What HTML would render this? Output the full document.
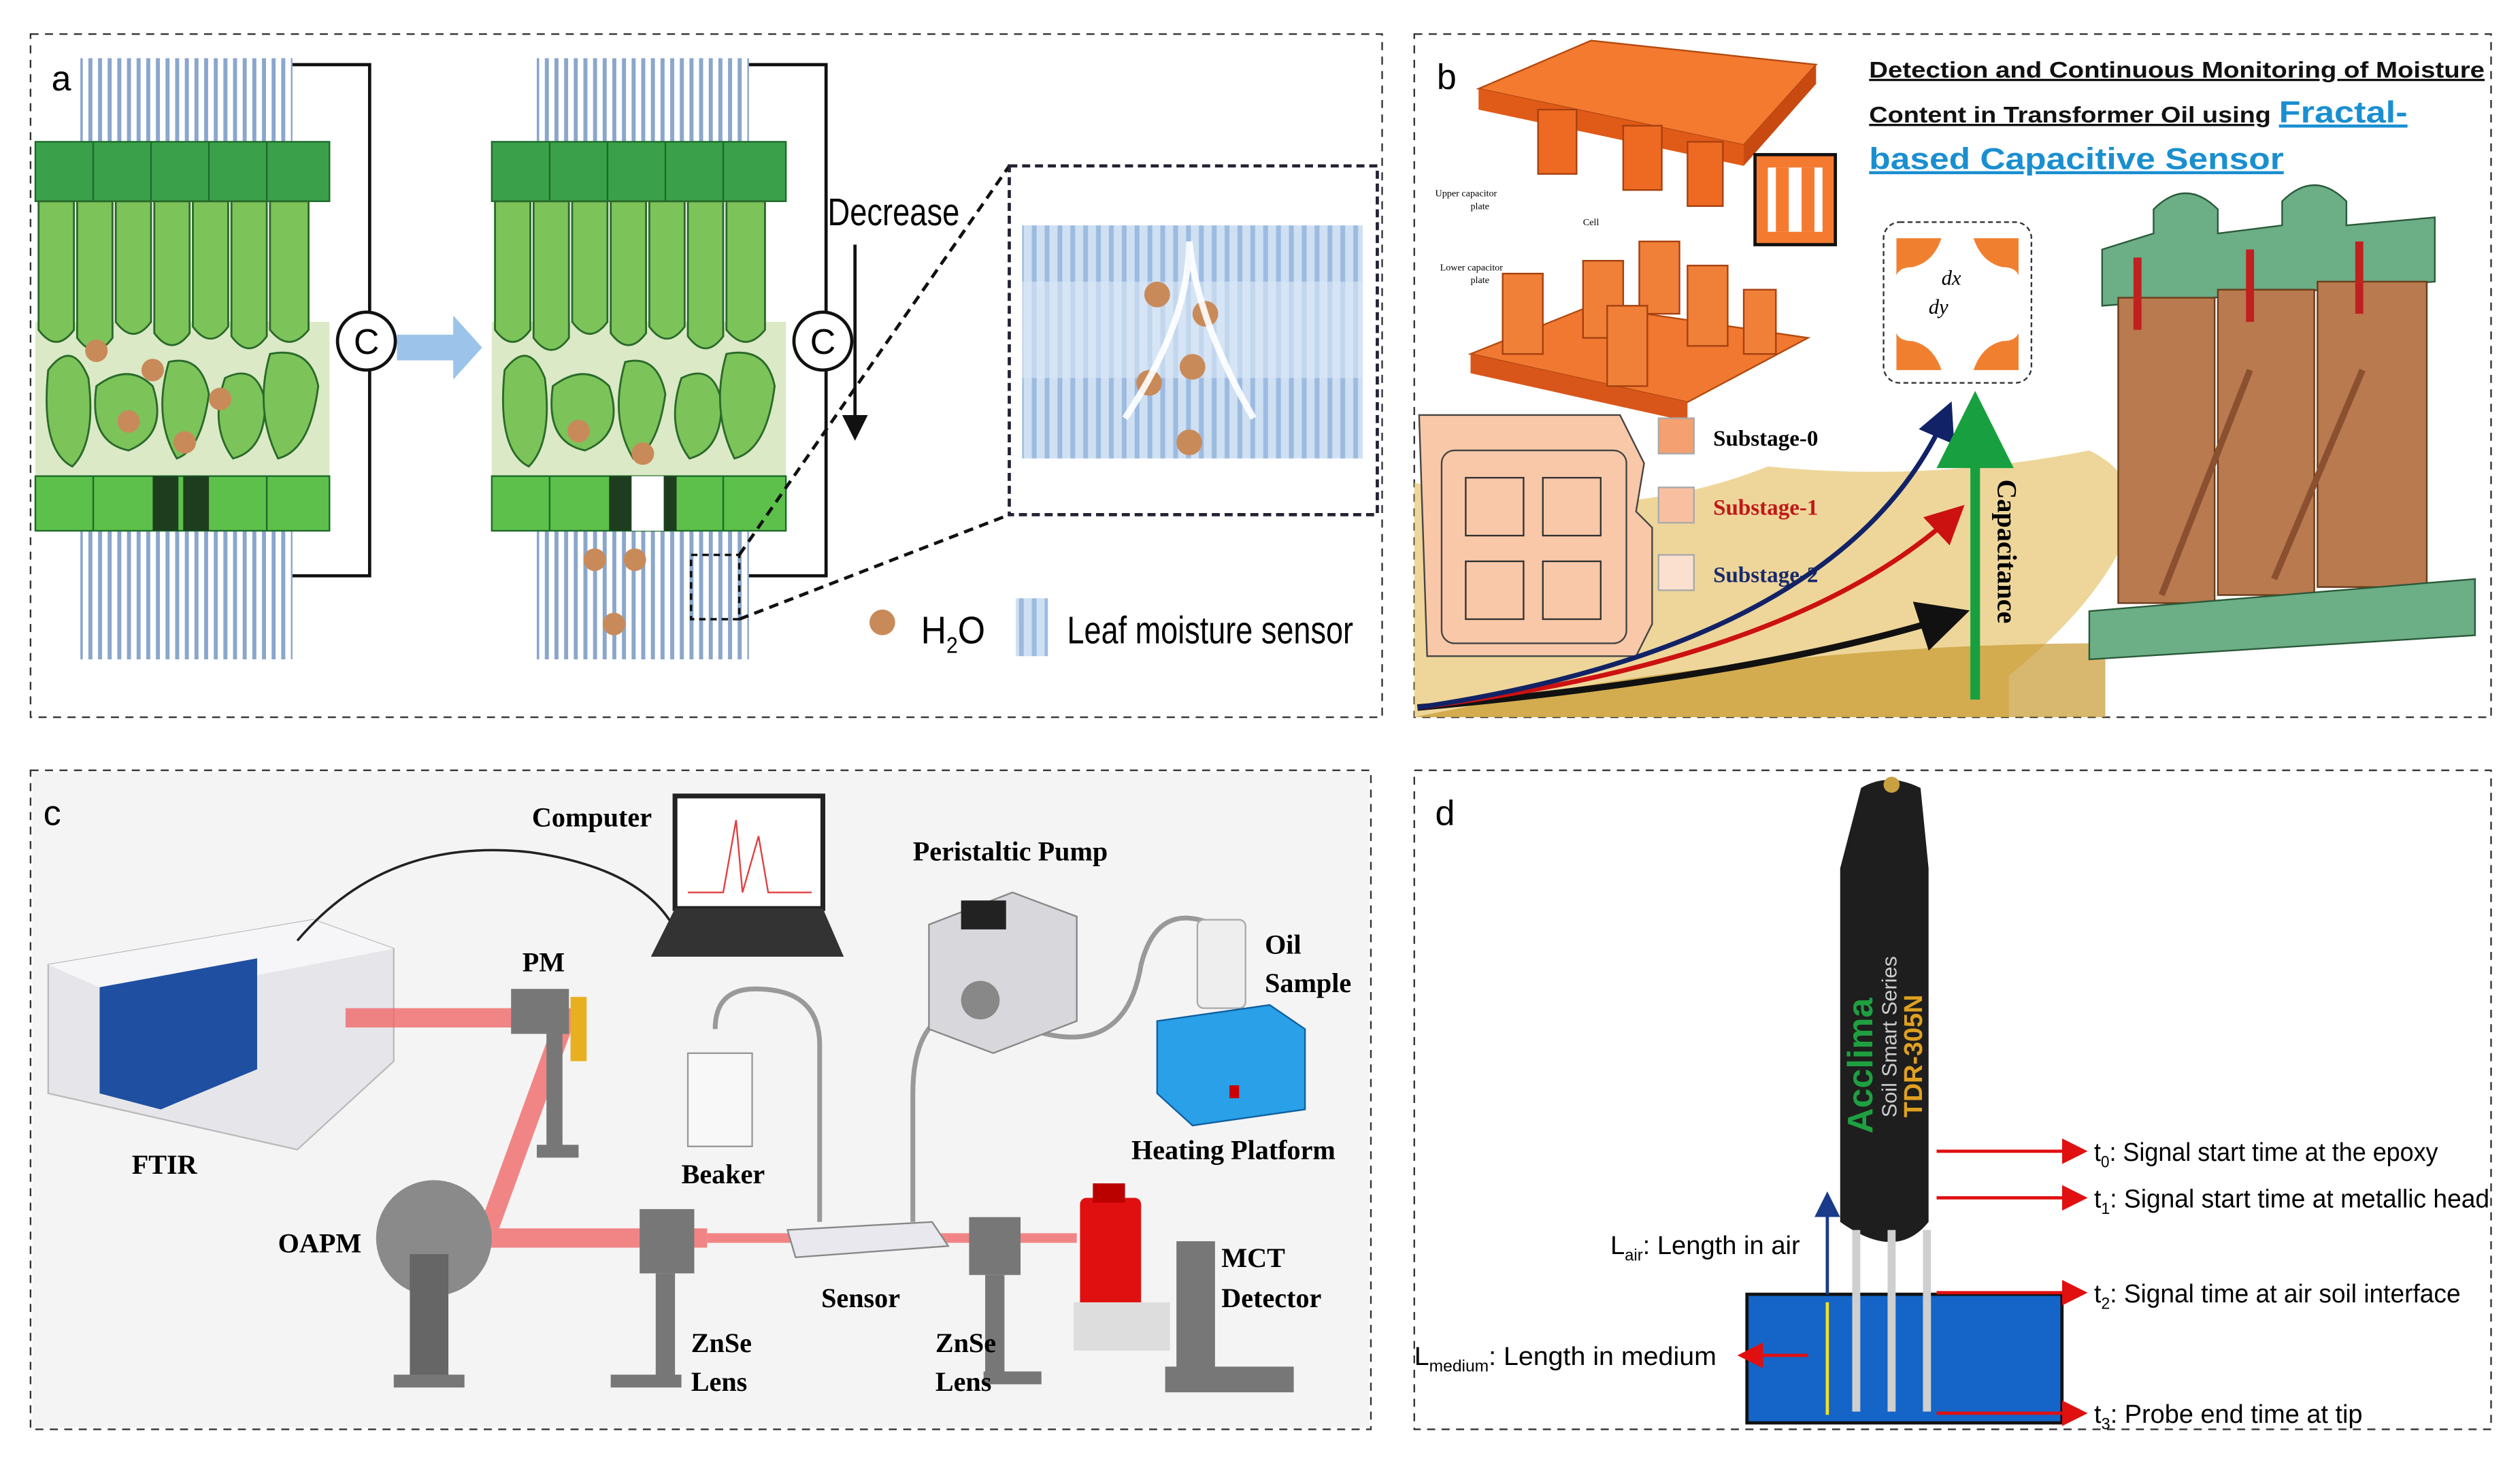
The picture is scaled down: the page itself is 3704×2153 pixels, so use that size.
<!DOCTYPE html>
<html><head><meta charset="utf-8"><style>
html,body{margin:0;padding:0;background:#fff}
svg{display:block}
text{font-family:"Liberation Serif",serif}
text.sans,.sans text{font-family:"Liberation Sans",sans-serif}
</style></head><body>
<svg width="3704" height="2153" viewBox="0 0 1568 911" xmlns="http://www.w3.org/2000/svg">
<defs>
<pattern id="vl" width="6" height="10" patternUnits="userSpaceOnUse"><rect width="6" height="10" fill="#fff"/><rect x="1" width="2.5" height="10" fill="#8aa6cc"/></pattern>
<pattern id="sens" width="8" height="12" patternUnits="userSpaceOnUse"><rect width="8" height="12" fill="#cfe0f2"/><rect x="2" width="3" height="12" fill="#9dbbe0"/></pattern>
<marker id="ar" markerWidth="8" markerHeight="8" refX="6" refY="4" orient="auto"><path d="M0,0 L8,4 L0,8z" fill="#e01010"/></marker>
<marker id="ak" markerWidth="8" markerHeight="8" refX="6" refY="4" orient="auto"><path d="M0,0 L8,4 L0,8z" fill="#111"/></marker>
<marker id="ab" markerWidth="8" markerHeight="8" refX="6" refY="4" orient="auto"><path d="M0,0 L8,4 L0,8z" fill="#112266"/></marker>
<marker id="arr" markerWidth="8" markerHeight="8" refX="6" refY="4" orient="auto"><path d="M0,0 L8,4 L0,8z" fill="#cc1111"/></marker>
<marker id="ag" markerWidth="8" markerHeight="8" refX="6" refY="4" orient="auto"><path d="M0,0 L8,4 L0,8z" fill="#18a040"/></marker>
<marker id="ablue" markerWidth="8" markerHeight="8" refX="6" refY="4" orient="auto"><path d="M0,0 L8,4 L0,8z" fill="#1a3a8a"/></marker>
</defs>
<rect width="1568" height="911" fill="#fff"/>
<g fill="none" stroke="#333" stroke-width="1" stroke-dasharray="5,4">
<rect x="19" y="21" width="841" height="425"/>
<rect x="880" y="21" width="670" height="425"/>
<rect x="19" y="479" width="834" height="410"/>
<rect x="880" y="479" width="670" height="410"/>
</g>
<!-- ===== Panel a ===== -->
<text x="32" y="56" class="sans" font-size="22">a</text>
<g id="leaf">
<rect x="50" y="36" width="132" height="56" fill="url(#vl)"/>
<rect x="50" y="330" width="132" height="80" fill="url(#vl)"/>
<rect x="22" y="200" width="183" height="98" fill="#dbe9c6"/>
<rect x="22" y="88" width="183" height="37" fill="#3aa14a" stroke="#1d6a2a"/>
<g stroke="#1d6a2a" stroke-width="1"><line x1="58" y1="88" x2="58" y2="125"/><line x1="94" y1="88" x2="94" y2="125"/><line x1="130" y1="88" x2="130" y2="125"/><line x1="166" y1="88" x2="166" y2="125"/></g>
<g fill="#7cc35a" stroke="#2a6a2a" stroke-width="1.2">
<path d="M24,125 h22 v80 q-11,15 -22,0z"/><path d="M48,125 h22 v85 q-11,15 -22,0z"/><path d="M72,125 h22 v75 q-11,15 -22,0z"/><path d="M96,125 h22 v82 q-11,15 -22,0z"/><path d="M120,125 h22 v78 q-11,15 -22,0z"/><path d="M144,125 h22 v84 q-11,15 -22,0z"/><path d="M168,125 h24 v80 q-12,15 -24,0z"/>
<path d="M30,230 q15,-20 25,5 q5,40 -10,55 q-20,-10 -15,-60z"/><path d="M60,240 q20,-15 35,0 q10,30 -15,40 q-25,-5 -20,-40z"/><path d="M105,225 q20,-5 25,20 q-5,35 -20,40 q-15,-25 -5,-60z"/><path d="M140,235 q20,-10 25,15 q0,30 -20,35 q-15,-20 -5,-50z"/><path d="M168,220 q25,-5 30,20 q-5,40 -25,45 q-15,-30 -5,-65z"/>
</g>
<rect x="22" y="296" width="183" height="34" fill="#5cc04a" stroke="#1d6a2a"/>
<g stroke="#1d6a2a"><line x1="58" y1="296" x2="58" y2="330"/><line x1="166" y1="296" x2="166" y2="330"/></g>
</g>
<rect x="95" y="296" width="16" height="34" fill="#1e3d1e"/><rect x="114" y="296" width="16" height="34" fill="#1e3d1e"/>
<use href="#leaf" x="284"/>
<rect x="379" y="296" width="14" height="34" fill="#1e3d1e"/><rect x="393" y="296" width="20" height="34" fill="#fff"/><rect x="413" y="296" width="8" height="34" fill="#1e3d1e"/>
<g fill="none" stroke="#111" stroke-width="2">
<path d="M182,40 H230 V194 M230,230 V358 H182"/>
<path d="M466,40 H514 V194 M514,230 V358 H466"/>
</g>
<circle cx="228" cy="212" r="18" fill="#fff" stroke="#111" stroke-width="2"/>
<text x="228" y="220" font-size="22" text-anchor="middle" class="sans">C</text>
<circle cx="512" cy="212" r="18" fill="#fff" stroke="#111" stroke-width="2"/>
<text x="512" y="220" font-size="22" text-anchor="middle" class="sans">C</text>
<path d="M247,208 h35 v-12 l18,20 -18,20 v-12 h-35z" fill="#9cc4ea"/>
<text x="515" y="140" font-size="24" class="sans" textLength="82" lengthAdjust="spacingAndGlyphs">Decrease</text>
<line x1="532" y1="152" x2="532" y2="270" stroke="#111" stroke-width="2" marker-end="url(#ak)"/>
<rect x="636" y="140" width="212" height="145" fill="url(#sens)"/>
<rect x="636" y="175" width="212" height="60" fill="#dbe8f6" opacity=".6"/>
<g fill="#c98a5a">
<circle cx="60" cy="218" r="7"/><circle cx="95" cy="230" r="7"/><circle cx="137" cy="248" r="7"/><circle cx="80" cy="262" r="7"/><circle cx="115" cy="275" r="7"/>
<circle cx="360" cy="268" r="7"/><circle cx="400" cy="282" r="7"/><circle cx="370" cy="348" r="7"/><circle cx="395" cy="348" r="7"/><circle cx="382" cy="388" r="7"/>
<circle cx="720" cy="183" r="8"/><circle cx="750" cy="195" r="8"/><circle cx="715" cy="238" r="8"/><circle cx="742" cy="228" r="8"/><circle cx="740" cy="275" r="8"/>
<circle cx="549" cy="387" r="8"/>
</g>
<rect x="430" y="345" width="30" height="40" fill="none" stroke="#111" stroke-dasharray="4,3" stroke-width="1.5"/>
<g stroke="#111" stroke-width="2" stroke-dasharray="6,4"><line x1="460" y1="345" x2="628" y2="103"/><line x1="460" y1="385" x2="628" y2="320"/></g>
<rect x="628" y="103" width="229" height="217" fill="none" stroke="#223" stroke-width="2" stroke-dasharray="5,3"/>
<path d="M700,260 Q740,200 740,150 M740,150 Q745,200 780,260" stroke="#fff" stroke-width="4" fill="none" opacity=".9"/>
<text x="573" y="400" font-size="24" class="sans" textLength="40" lengthAdjust="spacingAndGlyphs">H<tspan font-size="14" dy="6">2</tspan><tspan dy="-6">O</tspan></text>
<rect x="632" y="372" width="20" height="36" fill="url(#sens)"/>
<text x="664" y="400" font-size="24" class="sans" textLength="178" lengthAdjust="spacingAndGlyphs">Leaf moisture sensor</text>
<!-- ===== Panel b ===== -->
<path d="M880,446 L880,300 Q1000,330 1100,290 Q1200,300 1300,280 Q1340,300 1320,340 Q1300,380 1250,420 L1250,446z" fill="#e8c878" opacity=".75"/>
<path d="M880,446 Q1100,400 1310,400 L1310,446z" fill="#c89a30" opacity=".7"/>
<text x="894" y="55" class="sans" font-size="22">b</text>
<polygon points="920,55 990,25 1130,40 1085,90" fill="#f47a30" stroke="#b24a10"/>
<polygon points="920,55 1085,90 1085,103 920,68" fill="#e05a18"/>
<polygon points="1085,90 1130,40 1130,52 1085,103" fill="#c94a10"/>
<g fill="#ee6a22" stroke="#a64010"><rect x="957" y="68" width="24" height="40"/><rect x="1010" y="78" width="24" height="40"/><rect x="1050" y="88" width="22" height="40"/></g>
<polygon points="915,220 990,190 1125,210 1050,250" fill="#f07830" stroke="#b24a10"/>
<polygon points="915,220 1050,250 1050,262 915,232" fill="#d9561a"/>
<g fill="#f08038" stroke="#a64010"><rect x="935" y="170" width="25" height="50"/><rect x="985" y="162" width="25" height="48"/><rect x="1020" y="150" width="25" height="45"/><rect x="1050" y="165" width="25" height="50"/><rect x="1085" y="180" width="20" height="40"/><rect x="1000" y="190" width="25" height="50"/></g>
<text x="893" y="122" font-size="6">Upper capacitor</text><text x="915" y="130" font-size="6">plate</text>
<text x="896" y="168" font-size="6">Lower capacitor</text><text x="915" y="176" font-size="6">plate</text>
<text x="985" y="140" font-size="6">Cell</text>
<rect x="1092" y="96" width="50" height="56" fill="#f47a30" stroke="#111" stroke-width="2"/>
<rect x="1100" y="104" width="34" height="40" fill="#fff"/><rect x="1105" y="104" width="8" height="40" fill="#f47a30"/><rect x="1121" y="104" width="8" height="40" fill="#f47a30"/>
<g font-size="14" font-weight="bold" class="sans" fill="#111" text-decoration="underline">
<text x="1163" y="48" textLength="383" lengthAdjust="spacingAndGlyphs">Detection and Continuous Monitoring of Moisture</text>
<text x="1163" y="76" textLength="250" lengthAdjust="spacingAndGlyphs">Content in Transformer Oil using</text>
</g>
<g font-size="19" font-weight="bold" class="sans" fill="#1a8fd0" text-decoration="underline">
<text x="1418" y="76" textLength="80" lengthAdjust="spacingAndGlyphs">Fractal-</text>
<text x="1163" y="105" textLength="258" lengthAdjust="spacingAndGlyphs">based Capacitive Sensor</text>
</g>
<rect x="1172" y="138" width="92" height="100" rx="10" fill="#fff" stroke="#333" stroke-dasharray="3,2"/>
<g fill="#f08030"><path d="M1180,148 h28 q-5,15 -18,18 q-8,0 -10,5z"/><path d="M1256,148 h-28 q5,15 18,18 q8,0 10,5z"/><path d="M1180,230 h28 q-5,-15 -18,-18 q-8,0 -10,-5z"/><path d="M1256,230 h-28 q5,-15 18,-18 q8,0 10,-5z"/></g>
<text x="1208" y="177" font-size="13" font-style="italic">dx</text><text x="1200" y="195" font-size="13" font-style="italic">dy</text>
<path d="M883,258 h125 l15,30 -5,30 10,10 v60 l-10,20 h-130z" fill="#f8c8a8" stroke="#444"/>
<rect x="897" y="280" width="115" height="120" rx="8" fill="#f8c8a8" stroke="#444"/>
<g fill="#f8c8a8" stroke="#333"><rect x="912" y="297" width="36" height="36"/><rect x="960" y="297" width="36" height="36"/><rect x="912" y="349" width="36" height="36"/><rect x="960" y="349" width="36" height="36"/></g>
<rect x="1032" y="260" width="22" height="22" fill="#f4a070" stroke="#aaa"/>
<rect x="1032" y="303" width="22" height="22" fill="#f8c0a0" stroke="#aaa"/>
<rect x="1032" y="345" width="22" height="22" fill="#fbe0d0" stroke="#aaa"/>
<text x="1066" y="277" font-size="14" font-weight="bold">Substage-0</text>
<text x="1066" y="320" font-size="14" font-weight="bold" fill="#c01818">Substage-1</text>
<text x="1066" y="362" font-size="14" font-weight="bold" fill="#1a2a6a">Substage-2</text>
<path d="M882,440 Q1100,420 1218,382" stroke="#111" stroke-width="4" fill="none" marker-end="url(#ak)"/>
<path d="M882,440 Q1120,410 1218,318" stroke="#cc1111" stroke-width="3" fill="none" marker-end="url(#arr)"/>
<path d="M882,440 Q1150,400 1212,255" stroke="#112266" stroke-width="3" fill="none" marker-end="url(#ab)"/>
<line x1="1229" y1="435" x2="1229" y2="255" stroke="#18a040" stroke-width="6" marker-end="url(#ag)"/>
<text transform="translate(1243,298) rotate(90)" font-size="17" font-weight="bold">Capacitance</text>
<path d="M1308,155 L1340,145 V130 Q1360,110 1380,130 V145 L1420,140 V125 Q1440,105 1460,125 V140 L1515,135 V175 L1308,190z" fill="#6cae86" stroke="#2a5a3a"/>
<g fill="#b87a4e" stroke="#6a3a1a"><rect x="1318" y="185" width="60" height="190"/><rect x="1380" y="180" width="60" height="190"/><rect x="1442" y="175" width="68" height="190"/></g>
<path d="M1300,380 L1540,360 V395 L1300,410z" fill="#6cae86" stroke="#2a5a3a"/>
<g stroke="#c02020" stroke-width="5"><line x1="1330" y1="160" x2="1330" y2="205"/><line x1="1400" y1="155" x2="1400" y2="200"/><line x1="1468" y1="150" x2="1468" y2="195"/></g>
<g stroke="#8a5030" stroke-width="4"><line x1="1400" y1="230" x2="1345" y2="370"/><line x1="1470" y1="230" x2="1415" y2="360"/></g>
<!-- ===== Panel c ===== -->
<rect x="20" y="480" width="832" height="408" fill="#f4f4f4"/>
<text x="27" y="513" class="sans" font-size="22">c</text>
<polygon points="30,600 195,572 245,590 245,660 185,715 30,680" fill="#e6e6ea" stroke="#bbb"/>
<polygon points="30,600 195,572 245,590 80,622" fill="#f6f6f8"/>
<polygon points="62,614 160,596 160,665 100,690 62,680" fill="#1f4fa0"/>
<path d="M185,585 Q240,520 330,530 Q400,540 420,578" stroke="#222" stroke-width="1.5" fill="none"/>
<rect x="420" y="495" width="92" height="70" fill="#fff" stroke="#222" stroke-width="3"/>
<path d="M428,555 L450,555 L458,510 L462,555 L472,520 L478,555 L505,555" stroke="#e04040" fill="none"/>
<polygon points="405,595 420,565 512,565 525,595" fill="#333"/>
<g stroke="#f06060" stroke-width="12" opacity=".75" fill="none"><path d="M215,633 H352 L302,770 H440"/><path d="M440,770 H670" stroke-width="6"/></g>
<g fill="#777">
<rect x="318" y="615" width="36" height="28"/><rect x="340" y="643" width="10" height="75"/><rect x="334" y="712" width="26" height="8"/>
<circle cx="270" cy="770" r="36" fill="#8a8a8a"/><rect x="255" y="780" width="24" height="80" fill="#666"/><rect x="245" y="855" width="44" height="8"/>
<rect x="398" y="752" width="34" height="40"/><rect x="408" y="792" width="12" height="65"/><rect x="380" y="855" width="44" height="8"/>
<rect x="603" y="757" width="32" height="36"/><rect x="613" y="793" width="12" height="60"/><rect x="612" y="853" width="36" height="8"/>
<rect x="732" y="772" width="24" height="80"/><rect x="725" y="850" width="80" height="16"/>
</g>
<rect x="355" y="620" width="10" height="40" fill="#e8b020"/>
<rect x="672" y="745" width="38" height="70" rx="4" fill="#e01010"/><rect x="680" y="736" width="20" height="12" fill="#b00"/>
<rect x="668" y="810" width="60" height="30" fill="#ddd"/>
<polygon points="490,765 580,760 590,775 495,782" fill="#e8e8ee" stroke="#888"/>
<g stroke="#999" stroke-width="3" fill="none"><path d="M445,640 Q445,615 470,615 Q510,615 510,650 V760"/><path d="M568,760 V680 Q568,640 590,630"/><path d="M640,640 Q700,660 710,600 Q720,560 755,575"/></g>
<rect x="428" y="655" width="40" height="58" fill="#f8f8f8" stroke="#999"/>
<polygon points="578,575 630,555 670,570 670,635 618,655 578,640" fill="#d8d8dc" stroke="#888"/>
<rect x="598" y="560" width="28" height="18" fill="#222"/>
<circle cx="610" cy="622" r="12" fill="#888"/>
<rect x="745" y="572" width="30" height="55" rx="4" fill="#eee" stroke="#aaa"/>
<polygon points="720,635 790,625 812,640 812,690 742,700 720,680" fill="#29a0e8" stroke="#1060a0"/>
<rect x="765" y="675" width="6" height="8" fill="#c00"/>
<g font-size="17" font-weight="bold">
<text x="331" y="514">Computer</text>
<text x="568" y="535">Peristaltic Pump</text>
<text x="787" y="593">Oil</text><text x="787" y="617">Sample</text>
<text x="325" y="604">PM</text>
<text x="82" y="730">FTIR</text>
<text x="424" y="736">Beaker</text>
<text x="704" y="721">Heating Platform</text>
<text x="173" y="779">OAPM</text>
<text x="760" y="788">MCT</text><text x="760" y="813">Detector</text>
<text x="511" y="813">Sensor</text>
<text x="430" y="841">ZnSe</text><text x="430" y="865">Lens</text>
<text x="582" y="841">ZnSe</text><text x="582" y="865">Lens</text>
</g>
<!-- ===== Panel d ===== -->
<text x="893" y="513" class="sans" font-size="22">d</text>
<path d="M1158,490 Q1175,480 1195,490 L1200,540 V760 Q1180,785 1145,760 V540z" fill="#1e1e1e"/>
<circle cx="1177" cy="488" r="5" fill="#c9a040"/>
<text transform="translate(1165,705) rotate(-90)" font-size="22" font-weight="bold" fill="#1fa040" class="sans">Acclima</text>
<text transform="translate(1180,695) rotate(-90)" font-size="13" fill="#ccc" class="sans">Soil Smart Series</text>
<text transform="translate(1196,695) rotate(-90)" font-size="16" font-weight="bold" fill="#e0a020" class="sans">TDR-305N</text>
<rect x="1087" y="805" width="196" height="80" fill="#1565c8" stroke="#111" stroke-width="2"/>
<g stroke="#cfcfcf" stroke-width="5"><line x1="1155" y1="765" x2="1155" y2="878"/><line x1="1177" y1="765" x2="1177" y2="878"/><line x1="1199" y1="765" x2="1199" y2="878"/></g>
<line x1="1137" y1="805" x2="1137" y2="745" stroke="#1a3a8a" stroke-width="2" marker-end="url(#ablue)"/>
<line x1="1137" y1="810" x2="1137" y2="880" stroke="#f0e020" stroke-width="2"/>
<g stroke="#e01010" stroke-width="2">
<line x1="1205" y1="716" x2="1295" y2="716" marker-end="url(#ar)"/>
<line x1="1205" y1="745" x2="1295" y2="745" marker-end="url(#ar)"/>
<line x1="1205" y1="804" x2="1295" y2="804" marker-end="url(#ar)"/>
<line x1="1205" y1="879" x2="1295" y2="879" marker-end="url(#ar)"/>
<line x1="1125" y1="843" x2="1085" y2="843" marker-end="url(#ar)"/>
</g>
<g font-size="16" class="sans">
<text x="1303" y="722" textLength="214" lengthAdjust="spacingAndGlyphs">t<tspan font-size="10" dy="4">0</tspan><tspan dy="-4">: Signal start time at the epoxy</tspan></text>
<text x="1303" y="751" textLength="246" lengthAdjust="spacingAndGlyphs">t<tspan font-size="10" dy="4">1</tspan><tspan dy="-4">: Signal start time at metallic head</tspan></text>
<text x="1303" y="810" textLength="228" lengthAdjust="spacingAndGlyphs">t<tspan font-size="10" dy="4">2</tspan><tspan dy="-4">: Signal time at air soil interface</tspan></text>
<text x="1303" y="885" textLength="167" lengthAdjust="spacingAndGlyphs">t<tspan font-size="10" dy="4">3</tspan><tspan dy="-4">: Probe end time at tip</tspan></text>
<text x="1002" y="780" textLength="118" lengthAdjust="spacingAndGlyphs">L<tspan font-size="10" dy="4">air</tspan><tspan dy="-4">: Length in air</tspan></text>
<text x="880" y="849" textLength="188" lengthAdjust="spacingAndGlyphs">L<tspan font-size="10" dy="4">medium</tspan><tspan dy="-4">: Length in medium</tspan></text>
</g>
</svg>
</body></html>
